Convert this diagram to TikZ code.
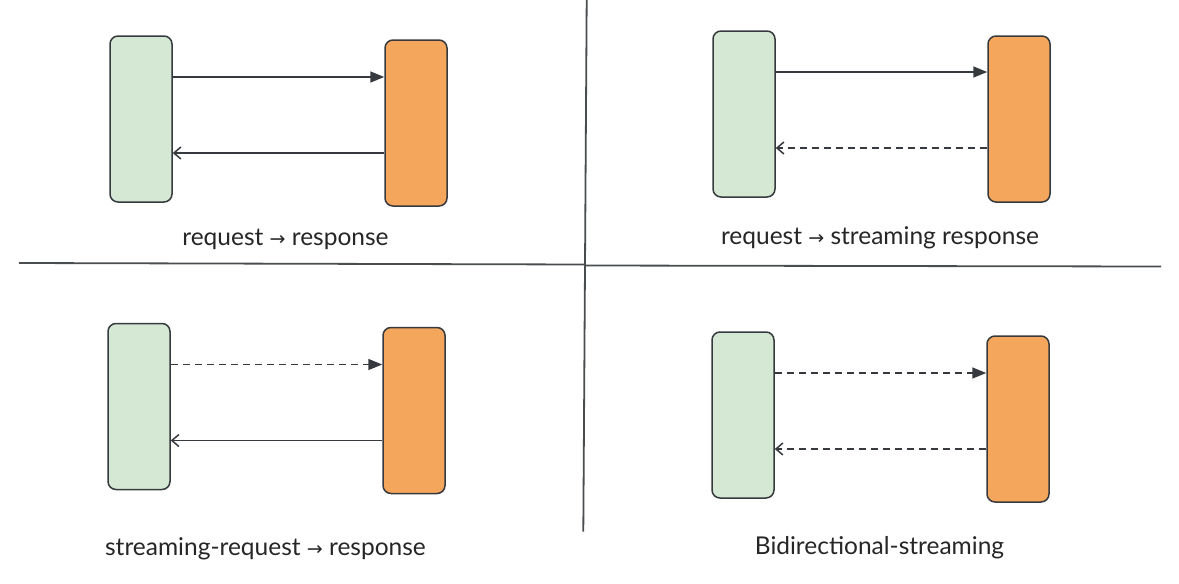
\documentclass[tikz,border=0pt]{standalone}
\usepackage{fontspec}
\setmainfont{Lato}
\newfontfamily\arrowfont{DejaVu Sans}
\usetikzlibrary{arrows.meta}
\definecolor{clientfill}{HTML}{D5E8D4}
\definecolor{serverfill}{HTML}{F4A75C}
\definecolor{edge}{HTML}{36393D}
\tikzset{
  client/.style={draw=edge, fill=clientfill, rounded corners=8pt, line width=1.5pt,
                 minimum width=62pt, minimum height=166pt, inner sep=0pt},
  server/.style={client, fill=serverfill},
  req/.style={edge, line width=1.5pt, -{Triangle[length=14pt,width=11pt]}},
  resp/.style={edge, line width=1.5pt, -{Straight Barb[length=7pt,width=12pt]}},
  stream/.style={dash pattern=on 7pt off 5pt},
  caption/.style={anchor=base, font=\fontsize{24.5}{29}\selectfont, text=black!85}
}
\newcommand{\rarr}{{\arrowfont\fontsize{19}{22}\selectfont →}}
\begin{document}
\begin{tikzpicture}[x=1pt,y=-1pt]
            \useasboundingbox (0,0) rectangle (1179,584);
            % dividers
            \draw[edge!90, line width=1.8pt] (19,263) -- (585,264.5);
            \draw[edge!90, line width=1.8pt] (585,265.5) -- (1161,266.5);
            \draw[edge!90, line width=1.8pt] (586.7,0) -- (583.3,531.5);
            % unary
            \node[client] (c1) at (141,119) {};
            \node[server] (s1) at (416,123) {};
            % server streaming
            \node[client] (c2) at (744,114) {};
            \node[server] (s2) at (1019,119) {};
            % client streaming
            \node[client] (c3) at (139,406.5) {};
            \node[server] (s3) at (414,410.5) {};
            % bidirectional
            \node[client] (c4) at (743,415) {};
            \node[server] (s4) at (1018,419) {};
            \foreach \i in {1,2,3,4} {
              \coordinate (q\i) at ([yshift=42pt]c\i.east);
              \coordinate (r\i) at ([yshift=-34pt]c\i.east);
            }
            \draw[req]        (q1) -- (q1 -| s1.west);
            \draw[resp]       (r1 -| s1.west) -- (r1);
            \draw[req]        (q2) -- (q2 -| s2.west);
            \draw[resp,stream] (r2 -| s2.west) -- (r2);
            \draw[req,stream]  (q3) -- (q3 -| s3.west);
            \draw[resp]       (r3 -| s3.west) -- (r3);
            \draw[req,stream]  (q4) -- (q4 -| s4.west);
            \draw[resp,stream] (r4 -| s4.west) -- (r4);
            \node[caption] (t1) at (285.5,245.5) {request \rarr{} response};
            \node[caption] (t2) at (880,244.5) {request \rarr{} streaming response};
            \node[caption] (t3) at (265.5,555) {streaming-request \rarr{} response};
            \node[caption] (t4) at (879.5,554) {Bidirectional-streaming};
\end{tikzpicture}
\end{document}
